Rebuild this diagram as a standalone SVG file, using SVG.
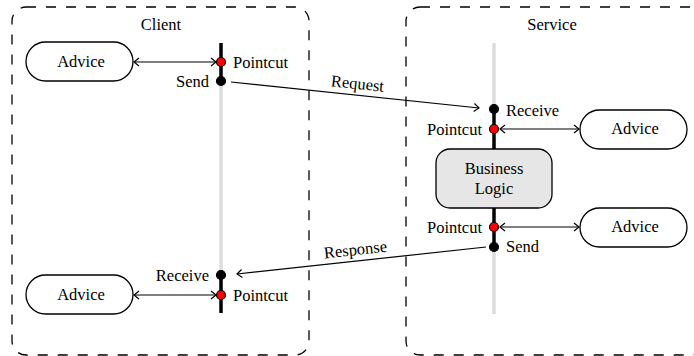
<svg xmlns="http://www.w3.org/2000/svg" width="694" height="356" viewBox="0 0 694 356" font-family="'Liberation Serif', 'DejaVu Serif', serif">
<style>
text{font-family:'Liberation Serif','DejaVu Serif',serif;font-size:16.5px;fill:#000}
.frame{fill:none;stroke:#000;stroke-width:1.3;stroke-dasharray:10 10}
.adv{fill:#fff;stroke:#000;stroke-width:1.3}
.biz{fill:#e6e6e6;stroke:#000;stroke-width:1.3}
.gray{stroke:#dcdcdc;stroke-width:3.5}
.blk{stroke:#000;stroke-width:3.5}
.pc{fill:#f00;stroke:#000;stroke-width:1.2}
.jp{fill:#000;stroke:#000;stroke-width:1.2}
.conn{fill:none;stroke:#000;stroke-width:1.2}
.dbl{marker-start:url(#ah);marker-end:url(#ah)}
.one{marker-end:url(#ah)}
.mid{text-anchor:middle}
.end{text-anchor:end}
</style>
<defs>
<marker id="ah" viewBox="-6 -5 7 10" refX="0" refY="0" markerWidth="7" markerHeight="10" markerUnits="userSpaceOnUse" orient="auto-start-reverse">
<path d="M-5,-4 L0,0 L-5,4" fill="none" stroke="#000" stroke-width="1.2"/>
</marker>
</defs>

<g id="client">
<rect class="frame" x="12" y="7" width="297" height="348" rx="14"/>
<text class="mid" x="161" y="30">Client</text>
</g>
<g id="service">
<rect class="frame" x="406" y="7" width="298" height="348" rx="14"/>
<text class="mid" x="552" y="30">Service</text>
</g>

<g id="client-axis">
<line class="gray" x1="221" y1="80" x2="221" y2="276"/>
<line class="blk" x1="221" y1="43" x2="221" y2="81"/>
<line class="blk" x1="221" y1="275" x2="221" y2="313"/>
</g>
<g id="service-axis">
<line class="gray" x1="494" y1="43" x2="494" y2="110"/>
<line class="gray" x1="494" y1="246" x2="494" y2="314"/>
<line class="blk" x1="494" y1="109" x2="494" y2="150"/>
<line class="blk" x1="494" y1="207" x2="494" y2="247"/>
</g>

<g id="connectors">
<line class="conn dbl" x1="134" y1="62" x2="216" y2="62"/>
<line class="conn dbl" x1="134" y1="295" x2="216" y2="295"/>
<line class="conn dbl" x1="500" y1="129" x2="579" y2="129"/>
<line class="conn dbl" x1="500" y1="227" x2="579" y2="227"/>
<line class="conn one" x1="231" y1="82" x2="479" y2="108"/>
<line class="conn one" x1="486" y1="247" x2="237" y2="274"/>
<text class="mid" transform="translate(357,89) rotate(6)">Request</text>
<text class="mid" transform="translate(356,255) rotate(-6.2)">Response</text>
</g>

<g id="advice-client-top">
<rect class="adv" x="26" y="42" width="107" height="39" rx="19.5"/>
<text class="mid" x="81" y="67">Advice</text>
</g>
<g id="advice-client-bottom">
<rect class="adv" x="26" y="275" width="107" height="39" rx="19.5"/>
<text class="mid" x="81" y="300">Advice</text>
</g>
<g id="advice-service-top">
<rect class="adv" x="580" y="110" width="107" height="39" rx="19.5"/>
<text class="mid" x="635" y="134">Advice</text>
</g>
<g id="advice-service-bottom">
<rect class="adv" x="580" y="208" width="107" height="39" rx="19.5"/>
<text class="mid" x="635" y="232">Advice</text>
</g>
<g id="business-logic">
<rect class="biz" x="436" y="149" width="116" height="59" rx="14"/>
<text class="mid" x="494" y="174">Business</text>
<text class="mid" x="494" y="194">Logic</text>
</g>

<g id="client-pointcut-top">
<circle class="pc" cx="221" cy="62" r="4.5"/>
<text x="233" y="68">Pointcut</text>
</g>
<g id="client-send">
<circle class="jp" cx="221" cy="81" r="4.5"/>
<text class="end" x="209" y="87">Send</text>
</g>
<g id="client-receive">
<circle class="jp" cx="221" cy="275" r="4.5"/>
<text class="end" x="209" y="281">Receive</text>
</g>
<g id="client-pointcut-bottom">
<circle class="pc" cx="221" cy="295" r="4.5"/>
<text x="233" y="301">Pointcut</text>
</g>
<g id="service-receive">
<circle class="jp" cx="494" cy="109" r="4.5"/>
<text x="506" y="116">Receive</text>
</g>
<g id="service-pointcut-top">
<circle class="pc" cx="494" cy="129" r="4.5"/>
<text class="end" x="482" y="135">Pointcut</text>
</g>
<g id="service-pointcut-bottom">
<circle class="pc" cx="494" cy="227" r="4.5"/>
<text class="end" x="482" y="233">Pointcut</text>
</g>
<g id="service-send">
<circle class="jp" cx="494" cy="247" r="4.5"/>
<text x="506" y="252">Send</text>
</g>
</svg>
